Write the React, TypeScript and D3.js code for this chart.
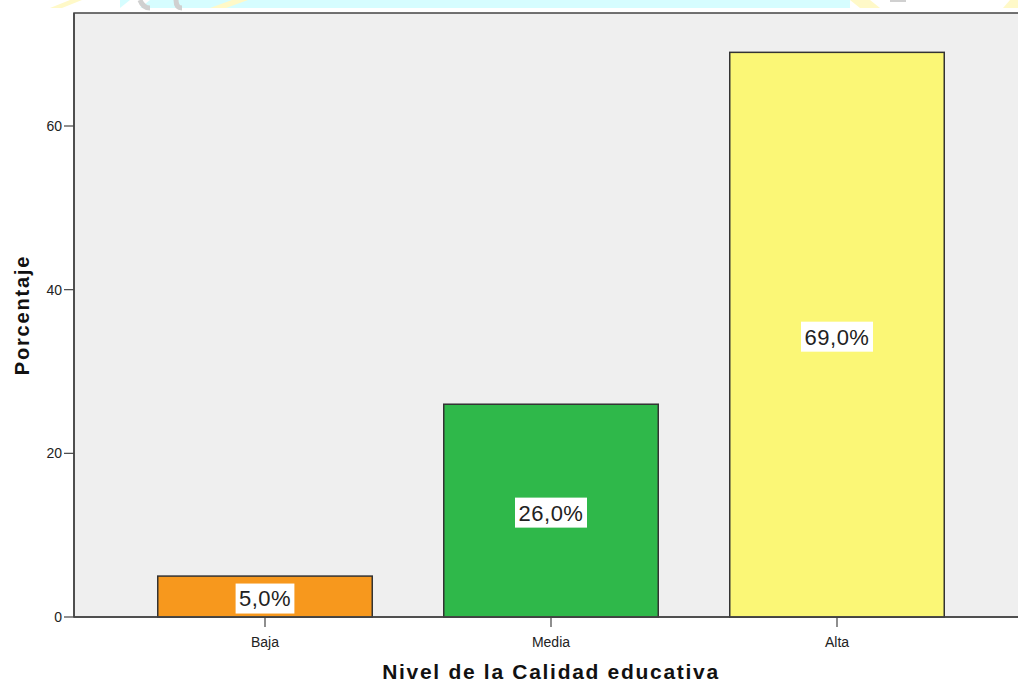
import React from "react";
import * as d3 from "d3";

const categories = ["Baja", "Media", "Alta"];
const values = [5.0, 26.0, 69.0];
const barColors = ["#f7981d", "#2fb84a", "#fbf776"];
const yTicks = [0, 20, 40, 60];
const yTitle = "Porcentaje";
const xTitle = "Nivel de la Calidad educativa";

const W = 1018;
const H = 684;

export default function App() {
  const x = d3.scaleBand<string>().domain(categories).range([122, 980]).paddingInner(0.25).paddingOuter(0.125);
  const y = d3.scaleLinear().domain([0, 60]).range([617, 126]);
  const plotLeft = 74;
  const plotTop = 13;
  const plotRight = 1030;
  const fmt = (v: number) => v.toFixed(1).replace(".", ",") + "%";
  const font = "'Liberation Sans', Arial, sans-serif";
  return (
    <div style={{ position: "fixed", left: 0, top: 0, width: W, height: H, background: "#fff" }}>
      <svg width={W} height={H} style={{ display: "block" }}>
        <rect x={0} y={0} width={W} height={H} fill="#fff" />
        {/* faint watermark strip at top */}
        <rect x={120} y={0} width={730} height={8} fill="#d6fdff" />
        <polygon points="50,8 70,0 82,0 62,8" fill="#fff9c8" />
        <polygon points="210,8 232,0 248,0 226,8" fill="#fff9c8" />
        <polygon points="120,8 130,0 150,0 140,8" fill="#ffffff" />
        <path d="M140,0 Q143,8 150,8" stroke="#d0d0d0" strokeWidth={5} fill="none" />
        <path d="M176,0 Q176,8 182,8" stroke="#d0d0d0" strokeWidth={5} fill="none" />
        <polygon points="850,0 870,0 880,8 860,8" fill="#fff9c8" />
        <polygon points="1003,8 1010,0 1018,0 1018,8" fill="#fff9c8" />
        <rect x={890} y={0} width={16} height={2} fill="#d0d0d0" />
        {/* plot area */}
        <rect x={plotLeft} y={plotTop} width={plotRight - plotLeft} height={617 - plotTop} fill="#efefef" stroke="#444" strokeWidth={1.5} />
        {categories.map((c, i) => (
          <rect key={c} x={x(c)} y={y(values[i])} width={x.bandwidth()} height={y(0) - y(values[i])} fill={barColors[i]} stroke="#333" strokeWidth={1.5} />
        ))}
        {/* axes */}
        <line x1={plotLeft} x2={plotRight} y1={y(0)} y2={y(0)} stroke="#444" strokeWidth={1.5} />
        <line x1={plotLeft} x2={plotLeft} y1={plotTop} y2={y(0)} stroke="#444" strokeWidth={1.5} />
        {yTicks.map((t) => (
          <g key={t}>
            <line x1={64} x2={plotLeft} y1={y(t)} y2={y(t)} stroke="#444" strokeWidth={1.2} />
            <text x={62} y={y(t)} dy="0.35em" textAnchor="end" fontFamily={font} fontSize={14} fill="#222">{t}</text>
          </g>
        ))}
        {categories.map((c) => {
          const cx = (x(c) as number) + x.bandwidth() / 2;
          return (
            <g key={c}>
              <line x1={cx} x2={cx} y1={y(0)} y2={y(0) + 10} stroke="#444" strokeWidth={1.2} />
              <text x={cx} y={642} dy="0.35em" textAnchor="middle" fontFamily={font} fontSize={14} fill="#222">{c}</text>
            </g>
          );
        })}
        {/* value labels */}
        {categories.map((c, i) => {
          const cx = (x(c) as number) + x.bandwidth() / 2;
          const cy = (y(values[i]) + y(0)) / 2 + 2;
          const label = fmt(values[i]);
          const w = label.length * 13.2 + 6;
          return (
            <g key={c + "l"}>
              <rect x={cx - w / 2} y={cy - 15} width={w} height={30} fill="#fff" />
              <text x={cx} y={cy} dy="0.36em" textAnchor="middle" fontFamily={font} fontSize={22} letterSpacing={0.5} fill="#222">{label}</text>
            </g>
          );
        })}
        <text transform={`translate(29,${315}) rotate(-90)`} textAnchor="middle" fontFamily={font} fontSize={20} fontWeight="bold" letterSpacing={1.8} fill="#111">{yTitle}</text>
        <text x={551} y={679} textAnchor="middle" fontFamily={font} fontSize={21} fontWeight="bold" letterSpacing={1.7} fill="#111">{xTitle}</text>
      </svg>
    </div>
  );
}
